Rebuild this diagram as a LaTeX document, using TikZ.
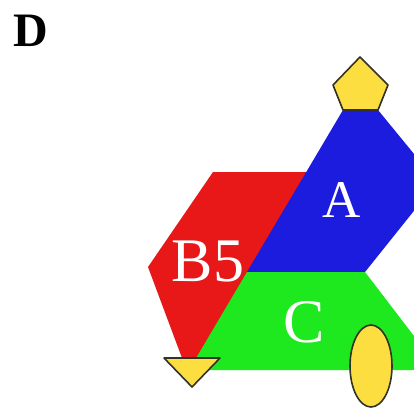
\documentclass[tikz,border=0pt]{standalone}
\usepackage{fontspec}
\setmainfont{Liberation Serif}
\definecolor{redB}{RGB}{232,24,24}
\definecolor{blueA}{RGB}{28,28,222}
\definecolor{greenC}{RGB}{30,232,30}
\definecolor{yel}{RGB}{253,222,64}
\definecolor{edge}{RGB}{50,50,40}
\begin{document}
\begin{tikzpicture}[x=1pt,y=-1pt,
  lbl/.style={text=white,inner sep=0pt},
  ymarker/.style={fill=yel,draw=edge,line width=1.6pt,line join=round}]
\useasboundingbox (0,0) rectangle (414,408);
\clip (0,0) rectangle (414,408);
\node[inner sep=0pt,font=\fontsize{48}{48}\selectfont\bfseries] (D) at (30.5,31) {D};
% red B5
\fill[redB] (213,172) -- (310,172) -- (198,358) -- (182,358) -- (148,267) -- cycle;
% blue A
\fill[blueA] (343,110) -- (378,110) -- (437,182) -- (365,272) -- (247,272) -- cycle;
% green C
\fill[greenC] (247,272) -- (365,272) -- (440,370) -- (189,370) -- cycle;
\node[lbl,font=\fontsize{53}{53}\selectfont] (A) at (342,200) {A};
\node[lbl,font=\fontsize{62}{62}\selectfont] (B5) at (208,261) {B5};
\node[lbl,font=\fontsize{62}{62}\selectfont] (C) at (304,322) {C};
% yellow markers
\draw[ymarker] (360,57) -- (388,85) -- (378,110) -- (343,110) -- (333,85) -- cycle;
\draw[ymarker] (164,358) -- (220,358) -- (192,387) -- cycle;
\draw[ymarker] (371,366) ellipse [x radius=21, y radius=41];
\end{tikzpicture}
\end{document}
